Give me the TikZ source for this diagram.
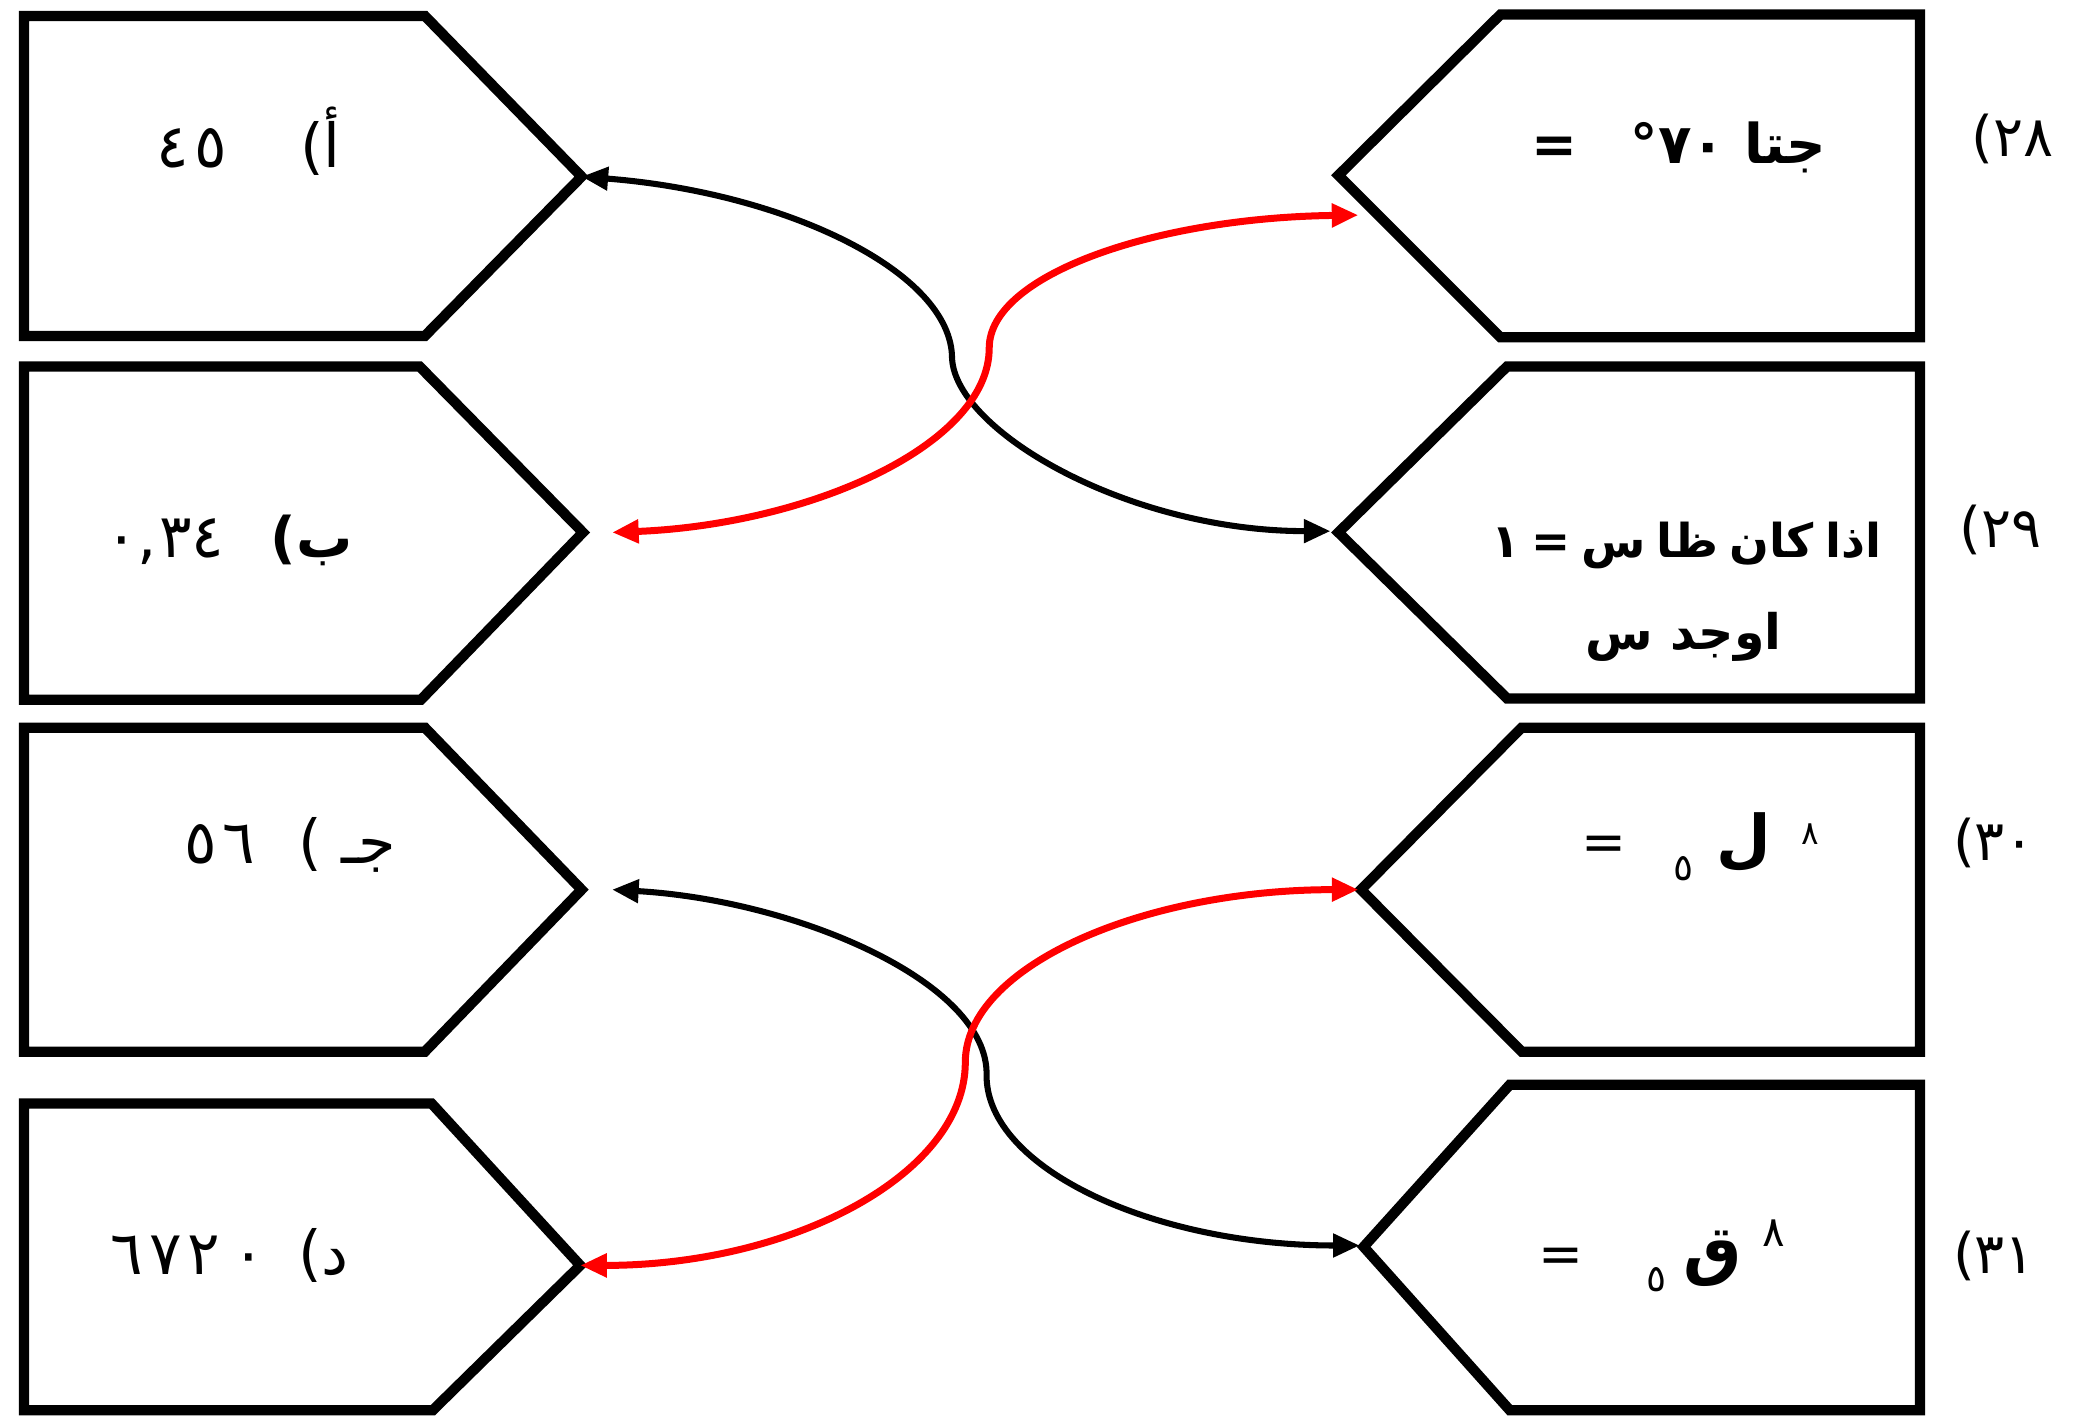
\documentclass[tikz,border=0pt]{standalone}
\usepackage{fontspec}
\usetikzlibrary{arrows.meta}
\newfontfamily\arabicfont[Script=Arabic]{DejaVu Sans}
\TeXXeTstate=1
\newcommand\dsp{\hspace{0.9mm}}
\begin{document}
\begin{tikzpicture}[x=0.2mm,y=-0.2mm,
  boxline/.style={line width=4.4pt, line join=miter},
  conn/.style={line width=2.6pt, {Triangle[length=4mm,width=3.4mm]}-{Triangle[length=4mm,width=3.4mm]}},
  redconn/.style={conn, red, line width=3pt},
  artext/.style={inner sep=0pt, anchor=base east, font=\arabicfont\fontsize{26}{30}\selectfont},
  arbold/.style={artext, font=\arabicfont\bfseries\fontsize{23.5}{28}\selectfont},
  numlbl/.style={artext, font=\arabicfont\fontsize{24}{28}\selectfont}]
\useasboundingbox (0,0) rectangle (1568,1068);
\fill[white] (0,0) rectangle (1568,1068);

% left boxes
\draw[boxline] (18,12) -- (320,12) -- (438,133) -- (320,253) -- (18,253) -- cycle;
\draw[boxline] (18,276) -- (316,276) -- (439,401) -- (317,527) -- (18,527) -- cycle;
\draw[boxline] (18,548) -- (320,548) -- (438,670) -- (320,792) -- (18,792) -- cycle;
\draw[boxline] (18,831) -- (325,831) -- (437,953) -- (326,1062) -- (18,1062) -- cycle;
% right boxes
\draw[boxline] (1446,11) -- (1130,11) -- (1008,132) -- (1130,254) -- (1446,254) -- cycle;
\draw[boxline] (1446,276) -- (1135,276) -- (1008,401) -- (1135,526) -- (1446,526) -- cycle;
\draw[boxline] (1446,548) -- (1146,548) -- (1025,670) -- (1146,792) -- (1446,792) -- cycle;
\draw[boxline] (1446,817) -- (1137,817) -- (1027,939) -- (1137,1062) -- (1446,1062) -- cycle;

% connector ends
\coordinate (eA) at (438,133);
\coordinate (eB) at (461,401);
\coordinate (eC) at (461,670);
\coordinate (eD) at (437,953);
\coordinate (e28) at (1023,162);
\coordinate (e29) at (1002,400);
\coordinate (e30) at (1023,670);
\coordinate (e31) at (1024,938);

% left texts
\node[artext] (tA) at (257,126) {\beginR أ)\hspace{11mm}\beginL ٤\dsp ٥\endL\endR};
\node[artext] (tB) at (266,420) {\beginR{\bfseries\fontsize{24}{28}\selectfont ب)}\hspace{7mm}\beginL ٠\hbox{,}\hspace{0.3mm}٣٤\endL\endR};
\node[artext] (tC) at (299,650) {\beginR جـ )\hspace{6.5mm}\beginL ٥\dsp ٦\endL\endR};
\node[artext] (tD) at (263,960) {\beginR د)\hspace{5mm}\beginL ٦\dsp ٧\dsp ٢\dsp\dsp ٠\endL\endR};

% right texts
\node[arbold] (t28) at (1376,123) {\beginR جتا ٧٠°\hspace{8mm}=\endR};
\node[arbold, anchor=base, font=\arabicfont\bfseries\fontsize{20}{26}\selectfont] (t29a) at (1270,420) {\spaceskip=0.24em\beginR اذا كان ظا س = ١\endR};
\node[arbold, anchor=base, font=\arabicfont\bfseries\fontsize{21}{26}\selectfont] (t29b) at (1268,489) {\beginR اوجد س\endR};
\node[artext] (t30) at (1370,648) {\beginR\raisebox{2.4mm}{\fontsize{14}{14}\selectfont ٨}\hspace{4.5mm}{\bfseries\fontsize{27}{27}\selectfont ل}\hspace{3.5mm}\raisebox{-3mm}{\fontsize{16}{16}\selectfont ٥}\hspace{7mm}{\fontsize{23}{23}\selectfont =}\endR};
\node[artext] (t31) at (1345,958) {\beginR\raisebox{3.8mm}{\fontsize{18}{18}\selectfont ٨}\hspace{3.2mm}{\bfseries\fontsize{28}{28}\selectfont ق}\hspace{2.5mm}\raisebox{-3mm}{\fontsize{16}{16}\selectfont ٥}\hspace{9.5mm}{\fontsize{23}{23}\selectfont =}\endR};

% outside numbers
\node[numlbl] (n28) at (1547,118) {\beginR ٢٨)\endR};
\node[numlbl] (n29) at (1538,412) {\beginR ٢٩)\endR};
\node[numlbl] (n30) at (1533,648) {\beginR ٣٠)\endR};
\node[numlbl] (n31) at (1533,959) {\beginR ٣١)\endR};

% connectors
\draw[conn] (eA) .. controls (592,145) and (717,205) .. (717,270) .. controls (720,325) and (850,400) .. (e29);
\draw[redconn] (eB) .. controls (610,395) and (745,335) .. (745,262) .. controls (745,207) and (870,164) .. (e28);
\draw[conn] (eC) .. controls (600,678) and (745,740) .. (743,810) .. controls (743,880) and (869,938) .. (e31);
\draw[redconn] (eD) .. controls (597,953) and (727,884) .. (727,800) .. controls (727,728) and (860,670) .. (e30);
\end{tikzpicture}
\end{document}
